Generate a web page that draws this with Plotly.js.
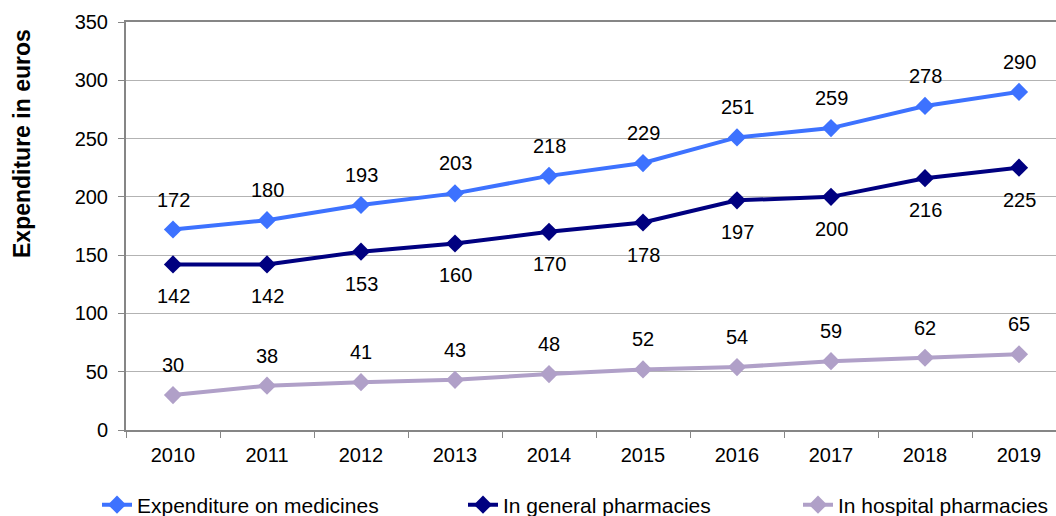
<!DOCTYPE html>
<html>
<head>
<meta charset="utf-8">
<script src="https://cdn.plot.ly/plotly-3.0.1.min.js"></script>
<style>html,body{margin:0;padding:0;background:#fff;}#chart{width:1056px;height:516px;}</style>
</head>
<body>
<div id="chart"></div>
<script>
const years = ['2010','2011','2012','2013','2014','2015','2016','2017','2018','2019'];
const totalExpenditure = [172,180,193,203,218,229,251,259,278,290];
const generalPharmacies = [142,142,153,160,170,178,197,200,216,225];
const hospitalPharmacies = [30,38,41,43,48,52,54,59,62,65];
const seriesNames = ['Expenditure on medicines','In general pharmacies','In hospital pharmacies'];
const yTicks = [0,50,100,150,200,250,300,350];

const colors = ['#3D72FF','#000080','#B0A0C8'];
const FONT = 'Liberation Sans, Arial, sans-serif';

const series = [totalExpenditure, generalPharmacies, hospitalPharmacies];
const legends = ['legend','legend2','legend3'];
const shifts = [30, -32, 30];

const traces = series.map((vals, i) => ({
  type: 'scatter', mode: 'lines+markers',
  x: years, y: vals, name: seriesNames[i],
  line: {color: colors[i], width: 4},
  marker: {symbol: 'diamond', size: 14, color: colors[i]},
  legend: legends[i],
  hoverinfo: 'skip'
}));

const annotations = [];
series.forEach((vals, i) => {
  vals.forEach((v, j) => {
    annotations.push({
      x: j, y: v, xref: 'x', yref: 'y',
      text: String(v), showarrow: false, yshift: shifts[i],
      xanchor: 'center', yanchor: 'middle',
      font: {family: FONT, size: 20, color: '#000'}
    });
  });
});
annotations.push({
  xref: 'paper', yref: 'paper', x: (22 - 126) / 930, y: (430 - 144) / 408,
  xanchor: 'center', yanchor: 'middle',
  text: '<b>Expenditure in euros</b>', textangle: -90, showarrow: false,
  font: {family: FONT, size: 23, color: '#000'}
});

const plotW = 930, catW = 94;
const legendBase = {orientation: 'h', yanchor: 'middle', y: (430 - 505) / 408, xanchor: 'left',
  font: {family: FONT, size: 21, color: '#000'}, bgcolor: 'rgba(0,0,0,0)', itemwidth: 30};

const layout = {
  width: 1056, height: 516,
  margin: {l: 126, r: 0, t: 22, b: 86, autoexpand: false},
  paper_bgcolor: '#fff', plot_bgcolor: '#fff',
  font: {family: FONT, size: 20, color: '#000'},
  showlegend: true,
  xaxis: {
    type: 'category', range: [-0.5, -0.5 + plotW / catW],
    tickson: 'boundaries', ticks: 'outside', ticklen: 6, tickcolor: '#868686', tickwidth: 1,
    showline: true, linecolor: '#868686', linewidth: 2, mirror: true,
    showgrid: false, zeroline: false, fixedrange: true,
    tickfont: {family: FONT, size: 20, color: '#000'}, ticklabelstandoff: 6
  },
  yaxis: {
    range: [0, 350], tickvals: yTicks, ticktext: yTicks.map(String),
    ticks: 'outside', ticklen: 6, tickcolor: '#868686', tickwidth: 1,
    showline: true, linecolor: '#868686', linewidth: 2,
    showgrid: true, gridcolor: '#B3B3B3', gridwidth: 1, zeroline: false, fixedrange: true,
    tickfont: {family: FONT, size: 20, color: '#000'}, ticklabelstandoff: 6
  },
  legend: Object.assign({}, legendBase, {x: (97 - 126) / plotW}),
  legend2: Object.assign({}, legendBase, {x: (463 - 126) / plotW}),
  legend3: Object.assign({}, legendBase, {x: (798 - 126) / plotW}),
  annotations: annotations
};

Plotly.newPlot('chart', traces, layout, {displayModeBar: false, staticPlot: true});
</script>
</body>
</html>
